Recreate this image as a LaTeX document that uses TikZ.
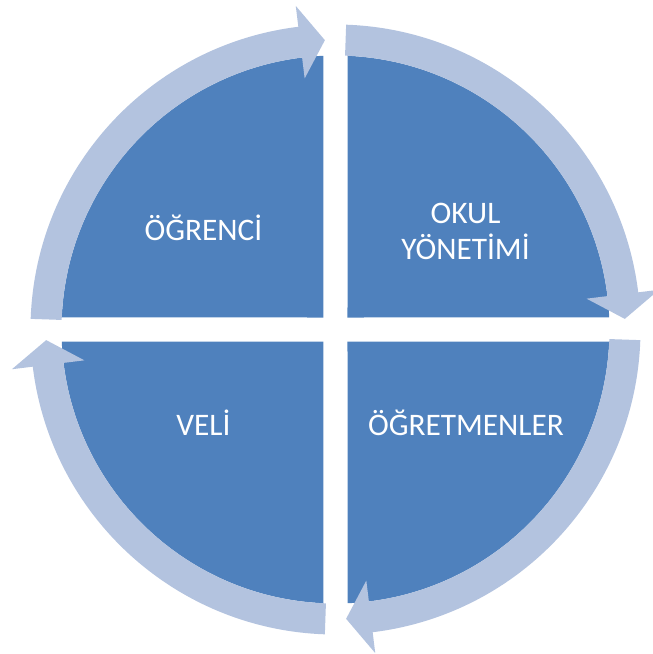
\documentclass[tikz,border=0pt]{standalone}
\usepackage{fontspec}
\setmainfont{Carlito}
\usepackage{tikz}

\definecolor{pieblue}{HTML}{4F81BD}
\definecolor{ringblue}{HTML}{B3C3DF}

\begin{document}
\begin{tikzpicture}[x=0.75pt, y=0.75pt,
	piece/.style={fill=pieblue},
	ring/.style={fill=ringblue},
	label/.style={text=white, font=\fontsize{23.5}{26.5}\selectfont, align=center}]
	\useasboundingbox (-335.5,-324.5) rectangle (317.5,329.5);
	\fill[piece] (12,12) -- (87.48:274) arc[start angle=87.48, end angle=2.52, radius=274] -- cycle;
	\fill[piece] (12,-12) -- (-2.52:274) arc[start angle=-2.52, end angle=-87.48, radius=274] -- cycle;
	\fill[piece] (-12,-12) -- (-92.52:274) arc[start angle=-92.52, end angle=-177.48, radius=274] -- cycle;
	\fill[piece] (-12,12) -- (177.48:274) arc[start angle=177.48, end angle=92.52, radius=274] -- cycle;
	\fill[ring] (178:305) arc[start angle=178, end angle=97, radius=305] -- (97:326) -- (92.1:289.5) -- (97:253) -- (97:274) arc[start angle=97, end angle=178, radius=274] -- cycle;
	\fill[ring] (88:305) arc[start angle=88, end angle=7, radius=305] -- (7:326) -- (2.1:289.5) -- (7:253) -- (7:274) arc[start angle=7, end angle=88, radius=274] -- cycle;
	\fill[ring] (-2:305) arc[start angle=-2, end angle=-83, radius=305] -- (-83:326) -- (-87.9:289.5) -- (-83:253) -- (-83:274) arc[start angle=-83, end angle=-2, radius=274] -- cycle;
	\fill[ring] (-92:305) arc[start angle=-92, end angle=-173, radius=305] -- (-173:326) -- (-177.9:289.5) -- (-173:253) -- (-173:274) arc[start angle=-173, end angle=-92, radius=274] -- cycle;
	\node[label, anchor=base] (ogrenci) at (-132,88.8) {ÖĞRENCİ};
	\node[label] (okul) at (130,98) {OKUL\\YÖNETİMİ};
	\node[label, anchor=base] (veli) at (-132,-105.5) {VELİ};
	\node[label, anchor=base] (ogretmen) at (130.5,-105.5) {ÖĞRETMENLER};
\end{tikzpicture}
\end{document}
